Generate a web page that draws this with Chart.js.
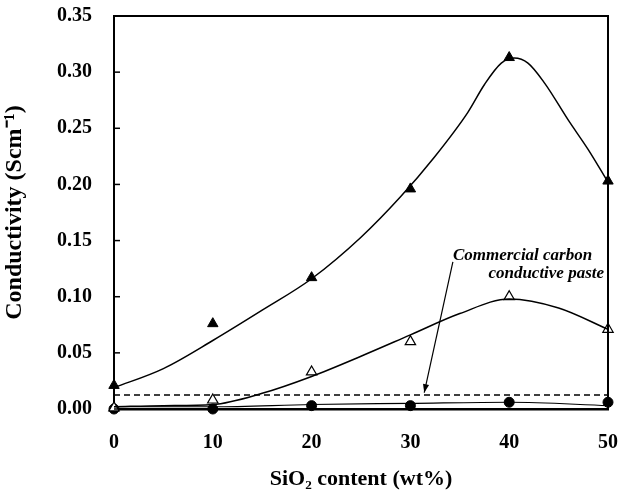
<!DOCTYPE html>
<html lang="en">
<head>
    <meta charset="UTF-8">
    <title>Conductivity vs SiO2 content</title>
    <script src="https://cdn.jsdelivr.net/npm/chart.js"></script>
    <style>
        html, body { margin: 0; padding: 0; background: #fff; }
        .box { width: 620px; height: 493px; }
    </style>
</head>
<body>
    <div class="box">
        <canvas id="grafico"></canvas>
    </div>
</body>
</html>
<script>
    // measured points
    const sio2 = [0, 10, 20, 30, 40, 50];
    const cheios = [0.021, 0.076, 0.117, 0.196, 0.313, 0.203];
    const abertos = [0.001, 0.008, 0.033, 0.060, 0.100, 0.071];
    const circulos = [0.000, 0.000, 0.003, 0.003, 0.006, 0.006];

    // fitted curves
    const curvaX1 = [0, 5, 10, 15, 20, 25, 29, 32.4, 35.8, 37.5, 39.2, 40.5, 41.9, 43.6, 46, 48, 50];
    const curvaCheios = [0.019, 0.036, 0.061, 0.088, 0.116, 0.153, 0.189, 0.224, 0.264, 0.289, 0.308, 0.3125, 0.308, 0.290, 0.257, 0.231, 0.202];
    const curvaX2 = [0, 5, 10, 15, 20, 25, 30, 35, 40, 45, 50];
    const curvaAbertos = [0.002, 0.003, 0.004, 0.014, 0.029, 0.047, 0.066, 0.085, 0.098, 0.090, 0.071];
    const curvaX3 = [0, 10, 20, 30, 40, 50];
    const curvaCirculos = [0.002, 0.002, 0.004, 0.005, 0.006, 0.003];

    // commercial paste reference
    const pastaX = [0, 50];
    const pastaY = [0.0125, 0.0125];

    const yTicks = [0, 0.05, 0.10, 0.15, 0.20, 0.25, 0.30, 0.35];

    const pares = (xs, ys) => xs.map((x, i) => ({ x: x, y: ys[i] }));
    const fonte = "'Liberation Serif', 'Times New Roman', serif";

    const bordaETexto = {
        id: 'bordaETexto',
        afterDraw(chart) {
            const ctx = chart.ctx;
            const a = chart.chartArea;
            const sx = chart.scales.x;
            const sy = chart.scales.y;
            ctx.save();
            ctx.strokeStyle = '#000';
            ctx.lineWidth = 2;
            ctx.beginPath();
            ctx.moveTo(a.left, a.top);
            ctx.lineTo(a.right, a.top);
            ctx.lineTo(a.right, a.bottom);
            ctx.stroke();

            // inner ticks on y
            ctx.lineWidth = 1.5;
            yTicks.forEach(v => {
                const py = sy.getPixelForValue(v);
                ctx.beginPath();
                ctx.moveTo(a.left, py);
                ctx.lineTo(a.left + 6, py);
                ctx.stroke();
            });

            // annotation
            ctx.fillStyle = '#000';
            ctx.font = "italic bold 17px " + fonte;
            ctx.textAlign = 'right';
            ctx.textBaseline = 'middle';
            ctx.fillText('Commercial carbon', sx.getPixelForValue(48.4), sy.getPixelForValue(0.137));
            ctx.fillText('conductive paste', sx.getPixelForValue(49.6), sy.getPixelForValue(0.121));

            const x0 = sx.getPixelForValue(34.3), y0 = sy.getPixelForValue(0.131);
            const x1 = sx.getPixelForValue(31.4), y1 = sy.getPixelForValue(0.0145);
            ctx.lineWidth = 1.2;
            ctx.beginPath();
            ctx.moveTo(x0, y0);
            ctx.lineTo(x1, y1);
            ctx.stroke();
            const ang = Math.atan2(y1 - y0, x1 - x0);
            ctx.beginPath();
            ctx.moveTo(x1, y1);
            ctx.lineTo(x1 - 9 * Math.cos(ang - 0.35), y1 - 9 * Math.sin(ang - 0.35));
            ctx.lineTo(x1 - 9 * Math.cos(ang + 0.35), y1 - 9 * Math.sin(ang + 0.35));
            ctx.closePath();
            ctx.fill();
            ctx.restore();
        }
    };

    new Chart(document.getElementById('grafico'), {
        type: 'scatter',
        data: {
            datasets: [
                {
                    label: 'curva cheios',
                    data: pares(curvaX1, curvaCheios),
                    showLine: true,
                    borderColor: '#000',
                    borderWidth: 1.5,
                    pointRadius: 0,
                    cubicInterpolationMode: 'monotone'
                },
                {
                    label: 'curva abertos',
                    data: pares(curvaX2, curvaAbertos),
                    showLine: true,
                    borderColor: '#000',
                    borderWidth: 1.5,
                    pointRadius: 0,
                    cubicInterpolationMode: 'monotone'
                },
                {
                    label: 'curva circulos',
                    data: pares(curvaX3, curvaCirculos),
                    showLine: true,
                    borderColor: '#000',
                    borderWidth: 1.2,
                    pointRadius: 0,
                    cubicInterpolationMode: 'monotone'
                },
                {
                    label: 'Commercial carbon conductive paste',
                    data: pares(pastaX, pastaY),
                    showLine: true,
                    borderColor: '#000',
                    borderWidth: 1.5,
                    borderDash: [6, 4],
                    pointRadius: 0
                },
                {
                    label: 'cheios',
                    data: pares(sio2, cheios),
                    pointStyle: 'triangle',
                    pointRadius: 6,
                    backgroundColor: '#000',
                    borderColor: '#000'
                },
                {
                    label: 'abertos',
                    data: pares(sio2, abertos),
                    pointStyle: 'triangle',
                    pointRadius: 6,
                    backgroundColor: '#fff',
                    borderColor: '#000',
                    borderWidth: 1.2
                },
                {
                    label: 'circulos',
                    data: pares(sio2, circulos),
                    pointStyle: 'circle',
                    pointRadius: 5,
                    backgroundColor: '#000',
                    borderColor: '#000'
                }
            ]
        },
        options: {
            responsive: true,
            maintainAspectRatio: false,
            animation: false,
            clip: false,
            layout: { padding: { top: 16, right: 12, left: 0, bottom: 0 } },
            scales: {
                x: {
                    type: 'linear',
                    min: 0,
                    max: 50,
                    grid: { display: false, drawTicks: false },
                    border: { display: true, color: '#000', width: 2.5 },
                    ticks: {
                        stepSize: 10,
                        padding: 22,
                        color: '#000',
                        font: { family: fonte, size: 20, weight: 'bold' }
                    },
                    title: {
                        display: true,
                        text: 'SiO₂ content (wt%)',
                        color: '#000',
                        padding: { top: 13, bottom: 0 },
                        font: { family: fonte, size: 22, weight: 'bold' }
                    },
                    afterFit(scale) {
                        scale.height = 84;
                        scale.paddingLeft = 0;
                        scale.paddingRight = 0;
                    }
                },
                y: {
                    min: 0,
                    max: 0.35,
                    grid: { display: false, drawTicks: false },
                    border: { display: true, color: '#000', width: 2 },
                    ticks: {
                        stepSize: 0.05,
                        padding: 22,
                        color: '#000',
                        font: { family: fonte, size: 20, weight: 'bold' },
                        callback: function (value) {
                            return value.toFixed(2);
                        }
                    },
                    title: {
                        display: true,
                        text: 'Conductivity (Scm⁻¹)',
                        color: '#000',
                        padding: { top: 0, bottom: 4 },
                        font: { family: fonte, size: 24, weight: 'bold' }
                    },
                    afterFit(scale) {
                        scale.width = 114;
                        scale.paddingTop = 0;
                        scale.paddingBottom = 0;
                    }
                }
            },
            plugins: {
                legend: { display: false },
                tooltip: { enabled: false }
            }
        },
        plugins: [bordaETexto]
    });
</script>
